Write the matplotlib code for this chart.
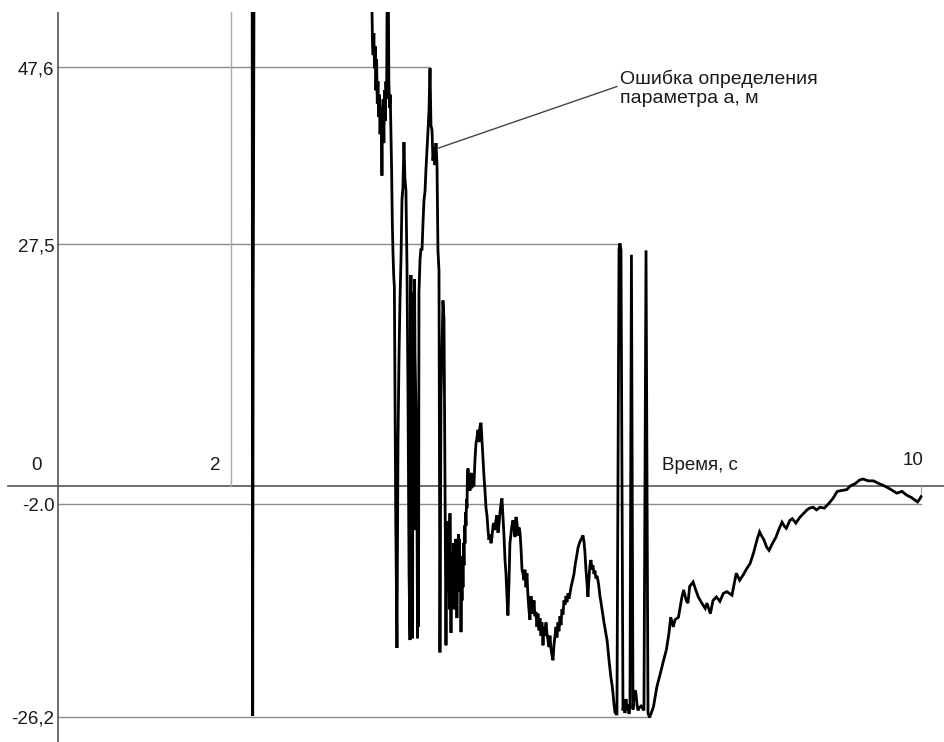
import matplotlib.pyplot as plt

plt.rcParams['font.family'] = ['Liberation Sans', 'DejaVu Sans']

# время, с
t_sec = [
    2.250, 2.256, 2.262, 2.266, 2.272,
    3.630, 3.645, 3.652, 3.660, 3.668, 3.676, 3.684, 3.692, 3.700, 3.708,
    3.716, 3.724, 3.732, 3.740, 3.748, 3.754, 3.760, 3.768, 3.776, 3.784,
    3.792, 3.800, 3.808, 3.816, 3.826, 3.834, 3.842, 3.850, 3.858, 3.866,
    3.874, 3.882, 3.890, 3.898, 3.906, 3.914, 3.922, 3.928,
    3.940, 3.952, 3.963, 3.975, 3.986, 3.997, 4.009, 4.020, 4.032, 4.044,
    4.056, 4.068, 4.079, 4.085, 4.090, 4.097, 4.103, 4.109, 4.114, 4.120,
    4.126, 4.132, 4.137, 4.150, 4.160, 4.166, 4.172, 4.178, 4.183,
    4.195, 4.206, 4.218, 4.230, 4.241, 4.253, 4.264, 4.276,
    4.288, 4.299, 4.311, 4.322, 4.334, 4.345, 4.357, 4.368, 4.380, 4.392,
    4.403, 4.415, 4.426, 4.438, 4.450, 4.461, 4.473, 4.496,
    4.502, 4.508, 4.514, 4.519, 4.525, 4.530, 4.536, 4.542, 4.548, 4.554,
    4.560, 4.566, 4.572, 4.577, 4.583, 4.589, 4.595, 4.600, 4.606, 4.612,
    4.618, 4.623, 4.629, 4.635, 4.641, 4.647, 4.652, 4.658, 4.664, 4.670,
    4.676, 4.682, 4.688, 4.693, 4.699, 4.705, 4.711, 4.716, 4.722, 4.728,
    4.734, 4.739, 4.745, 4.751,
    4.763, 4.774, 4.786, 4.797, 4.809, 4.820, 4.832, 4.844, 4.855, 4.867,
    4.879, 4.890, 4.902, 4.914, 4.925, 4.937, 4.948, 4.960, 4.971, 4.983,
    4.994, 5.006, 5.018, 5.029, 5.041, 5.052, 5.064, 5.075, 5.087, 5.099,
    5.110, 5.122, 5.133, 5.145, 5.156, 5.168, 5.180, 5.191, 5.203, 5.214,
    5.226, 5.237, 5.249, 5.260, 5.272, 5.284, 5.296, 5.307, 5.319, 5.330,
    5.342, 5.354, 5.365, 5.377, 5.388, 5.400, 5.411, 5.423, 5.434, 5.446,
    5.457, 5.469, 5.481, 5.492, 5.504, 5.516, 5.527, 5.539, 5.550, 5.562,
    5.574, 5.585, 5.597, 5.608, 5.620, 5.632, 5.643, 5.655, 5.666, 5.678,
    5.690, 5.701, 5.713, 5.724, 5.736, 5.748, 5.759, 5.771, 5.782, 5.794,
    5.805, 5.817, 5.829, 5.840, 5.852, 5.863, 5.875, 5.887, 5.898, 5.910,
    5.921, 5.933, 5.945, 5.956, 5.968, 5.979, 5.995, 6.010, 6.026, 6.045,
    6.065, 6.083, 6.095, 6.106, 6.118, 6.130, 6.141, 6.153, 6.164, 6.176,
    6.188, 6.199, 6.211, 6.222, 6.234, 6.246, 6.257, 6.269, 6.280, 6.292,
    6.304, 6.315, 6.327, 6.339, 6.350, 6.362, 6.373, 6.385, 6.396, 6.408,
    6.420, 6.431, 6.443, 6.454, 6.466,
    6.477, 6.501, 6.512, 6.524, 6.547, 6.559, 6.570, 6.582, 6.593, 6.605,
    6.617, 6.628, 6.645, 6.663, 6.675, 6.686, 6.698, 6.709, 6.721, 6.733,
    6.756, 6.790, 6.814, 6.837, 6.855, 6.875,
    6.90, 6.94, 6.98, 7.01, 7.05, 7.08, 7.10, 7.13, 7.15, 7.19,
    7.23, 7.25, 7.28, 7.30, 7.32, 7.36, 7.39, 7.42, 7.46, 7.50,
    7.52, 7.56, 7.59, 7.63, 7.67, 7.71, 7.75, 7.81, 7.84, 7.86,
    7.90, 7.94, 7.98, 8.02, 8.06, 8.10, 8.13, 8.15, 8.18, 8.21,
    8.24, 8.28, 8.32, 8.35, 8.39, 8.42, 8.44, 8.48, 8.51, 8.55,
    8.60, 8.64, 8.68, 8.71, 8.75, 8.79, 8.83, 8.88, 8.93, 8.98,
    9.03, 9.08, 9.14, 9.18, 9.24, 9.29, 9.33, 9.39, 9.45, 9.51,
    9.56, 9.62, 9.67, 9.72, 9.78, 9.83, 9.89, 9.96, 9.99, 10.00,
]

# ошибка определения параметра a, м
err_m = [
    60.0, -26.1, 22.0, 34.0, 60.0,
    60.0, 50.0, 49.0, 51.5, 47.5, 50.0, 45.0, 48.5, 43.5, 46.0,
    42.0, 44.5, 40.0, 43.0, 41.0, 35.3, 42.5, 44.0, 39.0, 45.0,
    41.5, 46.0, 44.0, 60.0, 60.0, 46.0, 43.0, 44.5, 40.0, 36.0,
    30.0, 26.5, 24.0, 22.6, 10.0, -4.0, -12.0, -18.4,
    5.0, 15.0, 21.1, 26.0, 32.5, 34.0, 39.1, 35.0, 33.6, 25.0,
    10.0, -10.0, -17.5, 17.7, 24.0, -16.0, 20.0, -17.3, 22.0, 21.1,
    -5.0, 23.5, 15.0, 8.0, -2.0, -17.3, 5.0, -16.0, 22.0,
    25.7, 27.0, 26.8, 30.0, 32.5, 33.5, 36.0, 38.2,
    40.5, 42.7, 47.5, 41.0, 40.5, 37.0, 38.5, 36.5, 39.0, 36.5,
    26.8, 24.5, -18.9, 10.0, 15.5, 21.1, 19.0, -18.1,
    -9.0, -7.0, -12.0, -4.0, -10.0, -8.0, -14.0, -3.1, -9.0, -16.7,
    -8.5, -13.0, -7.5, -11.0, -6.5, -14.0, -8.0, -12.0, -6.0, -13.5,
    -9.0, -15.0, -7.5, -11.0, -5.5, -9.5, -6.0, -12.0, -9.0, -16.6,
    -10.0, -13.0, -8.0, -11.5, -6.5, -9.0, -4.5, -6.5, -3.0, -4.5,
    -1.5, -2.5, 1.5, 2.0,
    0.8, -0.5, 1.5, 1.1, 0.0, 0.1, 3.0, 4.9, 5.5, 6.4,
    5.0, 6.8, 7.2, 5.0, 2.95, 1.0, -0.5, -2.5, -3.3, -5.0,
    -6.1, -5.5, -6.5, -5.8, -4.5, -4.2, -5.0, -3.9, -3.3, -5.3,
    -4.4, -3.0, -2.0, -1.4, -3.5, -5.6, -8.4, -9.9, -12.6, -14.7,
    -11.0, -6.5, -5.5, -4.5, -3.9, -4.8, -5.8, -3.5, -4.2, -5.6,
    -4.7, -5.3, -7.0, -9.5, -9.9, -10.7, -9.5, -11.5, -9.9, -12.5,
    -14.0, -15.2, -12.5, -13.8, -14.5, -13.0, -14.8, -14.3, -16.0, -14.5,
    -16.4, -15.0, -17.0, -15.5, -18.1, -16.0, -17.0, -15.5, -16.8, -17.5,
    -18.3, -17.0, -18.5, -19.2, -19.8, -18.0, -17.0, -16.0, -17.2, -15.5,
    -16.5, -14.8, -15.8, -14.0, -14.6, -13.0, -13.5, -12.5, -13.2, -12.2,
    -12.8, -12.2, -11.5, -11.0, -10.5, -10.0, -8.8, -8.0, -7.0, -6.4,
    -6.0, -5.6, -6.3, -7.5, -9.5, -11.0, -12.6, -10.5, -9.0, -8.4,
    -9.5, -9.0, -10.0, -9.6, -10.5, -10.2, -10.7, -11.5, -12.5, -13.2,
    -14.0, -14.8, -15.5, -16.2, -16.9, -17.5, -18.5, -19.8, -20.8, -21.8,
    -22.6, -23.5, -24.8, -25.7, -25.9,
    -25.9, 27.0, 27.6, 26.8, -25.5, -24.5, -25.8, -24.2, -25.5, -24.8,
    -25.9, -25.0, 26.3, -25.4, -23.8, -23.2, -23.6, -24.8, -25.5, -25.2,
    -25.0, -25.5, 26.8, -25.8, -26.3, -25.8,
    -25.1, -22.8, -21.3, -20.1, -18.6, -16.7, -14.9, -16.0, -15.2, -14.9,
    -12.6, -11.8, -13.0, -13.3, -11.4, -10.9, -11.8, -12.6, -13.3, -13.9,
    -13.3, -14.5, -13.0, -12.6, -13.1, -12.2, -12.0, -12.4, -10.9, -9.9,
    -10.7, -10.1, -9.4, -8.8, -7.6, -6.1, -5.2, -5.6, -6.1, -6.9,
    -7.3, -6.5, -5.8, -5.0, -4.1, -4.6, -4.8, -3.9, -3.7, -4.2,
    -3.5, -3.1, -2.7, -2.5, -2.4, -2.7, -2.4, -2.5, -2.0, -1.4,
    -0.6, -0.5, -0.4, 0.0, 0.3, 0.7, 0.8, 0.6, 0.6, 0.3,
    0.1, -0.2, -0.5, -0.8, -0.6, -1.0, -1.3, -1.8, -1.4, -1.2,
]

# отмеченные уровни и время, до которого тянется линия уровня
levels = [47.6, 27.5, -2.0, -26.2]
level_labels = ['47,6', '27,5', '-2.0', '-26,2']
level_ends = [4.31, 6.51, 10.0, 6.86]

FS = 13.5
TXT = '#1a1a1a'

fig = plt.figure(figsize=(9.44, 7.42), dpi=100)
ax = fig.add_axes([0, 0, 1, 730 / 742])
ax.set_xlim(-0.672, 10.267)
ax.set_ylim(-29.09, 53.9)
ax.axis('off')

# уровни
for lev, lab, end in zip(levels, level_labels, level_ends):
    ax.plot([0, end], [lev, lev], color='#8c8c8c', lw=1.0, zorder=1)
    ax.text(-0.04, lev - 0.3, lab, ha='right', va='center', fontsize=FS, color=TXT)

# оси
ax.plot([-0.58, 10.267], [0, 0], color='#555555', lw=1.2, zorder=1)
ax.axvline(0, color='#555555', lw=1.2, zorder=1)
ax.plot([2, 2], [0, 53.9], color='#aaaaaa', lw=1.0, zorder=1)
ax.plot([10, 10], [0, err_m[-1]], color='#999999', lw=0.8, zorder=1)

ax.text(-0.245, 2.4, '0', ha='center', va='center', fontsize=FS, color=TXT)
ax.text(1.88, 2.4, '2', ha='right', va='center', fontsize=FS, color=TXT)
ax.text(10.03, 2.9, '10', ha='right', va='center', fontsize=FS, color=TXT)
ax.text(7.0, 2.4, 'Время, с', ha='left', va='center', fontsize=FS, color=TXT)

# кривая
ax.plot(t_sec, err_m, color='black', lw=2.0, solid_joinstyle='miter', zorder=3)

ax.annotate('Ошибка определения\nпараметра а, м', xy=(4.40, 38.4), xytext=(6.51, 45.2),
            ha='left', va='center', fontsize=14, color=TXT, linespacing=1.15,
            arrowprops=dict(arrowstyle='-', color='#444444', lw=1.0, shrinkA=0, shrinkB=0,
                            relpos=(0, 0.58)))

fig.savefig('out.png', dpi=100, facecolor='white')
